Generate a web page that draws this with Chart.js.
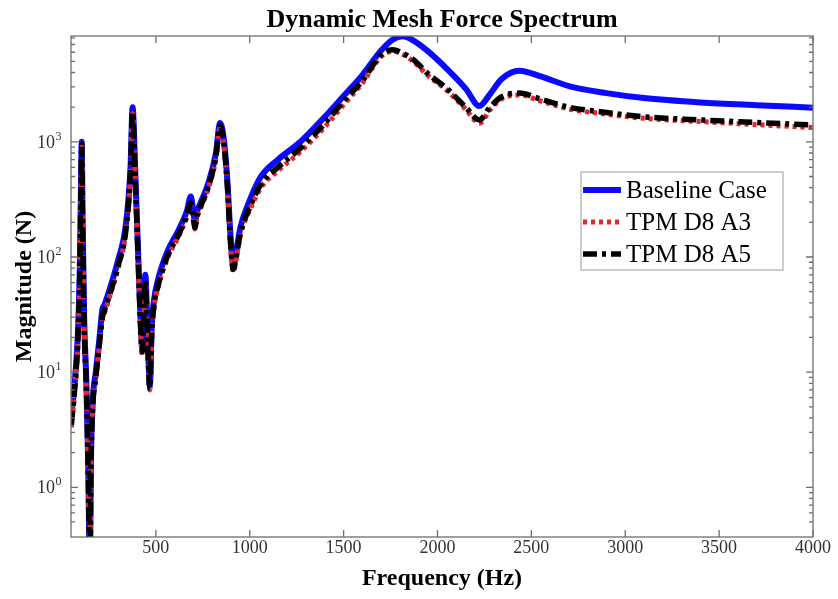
<!DOCTYPE html>
<html>
<head>
<meta charset="utf-8">
<script src="https://cdn.jsdelivr.net/npm/chart.js@4"></script>
<style>
  html, body { margin: 0; padding: 0; background: #fff; }
  #wrap { width: 838px; height: 599px; }
</style>
</head>
<body>
<div id="wrap"><canvas id="spectrum" width="838" height="599"></canvas></div>
<script>
const chartTitle = 'Dynamic Mesh Force Spectrum';
const seriesNames = ['Baseline Case', 'TPM D8 A3', 'TPM D8 A5'];

const freq = [50, 70, 85, 95, 100, 105, 110, 118, 130, 140, 148, 155, 165, 180, 200, 215, 225, 250, 300, 340,
  365, 376, 390, 405, 420, 428, 438, 444, 452, 460, 468, 478, 490, 510, 560, 620, 665, 686, 698, 708,
  720, 740, 780, 820, 842, 862, 880, 898, 912, 925, 950, 1000, 1060, 1150, 1270, 1400, 1500, 1600, 1700, 1760,
  1814, 1870, 1950, 2050, 2150, 2223, 2280, 2340, 2436, 2550, 2700, 2900, 3100, 3400, 3700, 4000];

const baseline = [4.2, 9, 22, 80, 300, 1000, 200, 30, 8, 1.5, 0.2, 2, 6, 10, 20, 35, 38, 50, 95, 190,
  600, 2000, 560, 115, 25, 16, 45, 70, 35, 14, 7.6, 25, 42, 62, 110, 170, 250, 335, 260, 205,
  250, 300, 440, 800, 1460, 1050, 480, 150, 88, 105, 180, 310, 500, 700, 1000, 1650, 2500, 3800, 6200, 7700,
  8250, 7600, 6100, 4300, 2900, 2050, 2600, 3500, 4150, 3700, 3050, 2650, 2400, 2200, 2080, 1980];

const tpmA3 = [3.3, 7.6, 19, 72, 270, 930, 170, 26, 6.6, 1.2, 0.2, 1.7, 5.2, 8.6, 17, 29, 32, 43, 82, 165,
  530, 1750, 480, 100, 21, 14, 38, 60, 29, 12, 7, 21, 36, 53, 96, 150, 222, 285, 222, 175,
  220, 270, 395, 720, 1330, 940, 420, 125, 74, 90, 155, 255, 400, 560, 820, 1350, 2100, 3250, 5500, 6100,
  5750, 5000, 3750, 2800, 1920, 1450, 1900, 2350, 2550, 2260, 1930, 1740, 1600, 1500, 1410, 1330];

const tpmA5 = [3.5, 8, 20, 75, 280, 950, 180, 27, 7, 1.3, 0.2, 1.8, 5.5, 9, 18, 30, 34, 45, 85, 170,
  550, 1800, 500, 105, 22, 15, 40, 62, 31, 12.5, 7.2, 22, 38, 55, 100, 155, 230, 295, 230, 180,
  230, 280, 410, 750, 1380, 980, 440, 130, 78, 94, 160, 270, 430, 600, 880, 1450, 2250, 3400, 5700, 6300,
  5900, 5200, 3900, 2900, 2000, 1550, 2000, 2450, 2650, 2350, 2000, 1800, 1650, 1550, 1470, 1400];

const xTicks = [500, 1000, 1500, 2000, 2500, 3000, 3500, 4000];
const yDecades = [1, 10, 100, 1000];

const serif = "'Liberation Serif', 'Times New Roman', serif";

const toPoints = ys => freq.map((f, i) => ({ x: f, y: ys[i] }));

const isDecade = v => {
  const e = Math.log10(v);
  return Math.abs(e - Math.round(e)) < 1e-9;
};

// title, box with inward ticks on all four sides, 10^n labels, legend in the plot
const decorations = {
  id: 'decorations',
  afterDatasetsDraw(chart) {
    const { ctx, chartArea: a, scales: { x, y } } = chart;
    ctx.save();
    ctx.strokeStyle = '#6e6e6e';
    ctx.lineWidth = 1.3;
    ctx.setLineDash([]);
    ctx.strokeRect(a.left, a.top, a.right - a.left, a.bottom - a.top);

    ctx.beginPath();
    xTicks.forEach(v => {
      const px = x.getPixelForValue(v);
      ctx.moveTo(px, a.bottom); ctx.lineTo(px, a.bottom - 7);
      ctx.moveTo(px, a.top); ctx.lineTo(px, a.top + 7);
    });
    y.ticks.forEach(t => {
      const v = t.value;
      const e = Math.floor(Math.log10(v) + 1e-9);
      const m = v / Math.pow(10, e);
      if (Math.abs(m - Math.round(m)) > 1e-6) return;
      const py = y.getPixelForValue(v);
      const len = isDecade(v) ? 7 : 4;
      ctx.moveTo(a.left, py); ctx.lineTo(a.left + len, py);
      ctx.moveTo(a.right, py); ctx.lineTo(a.right - len, py);
    });
    ctx.stroke();

    // y labels as 10 with a raised exponent
    ctx.fillStyle = '#333';
    ctx.textBaseline = 'alphabetic';
    yDecades.forEach(v => {
      const py = y.getPixelForValue(v);
      const exp = String(Math.round(Math.log10(v)));
      ctx.font = '18px ' + serif;
      ctx.textAlign = 'right';
      ctx.fillText('10', 55, py + 6);
      ctx.font = '12px ' + serif;
      ctx.textAlign = 'left';
      ctx.fillText(exp, 55.5, py - 2);
    });

    // title
    ctx.fillStyle = '#000';
    ctx.font = 'bold 26px ' + serif;
    ctx.textAlign = 'center';
    ctx.fillText(chartTitle, (a.left + a.right) / 2, 27);

    // legend
    const box = { left: 581, top: 172, right: 783, bottom: 270 };
    ctx.fillStyle = '#fff';
    ctx.fillRect(box.left, box.top, box.right - box.left, box.bottom - box.top);
    ctx.strokeStyle = '#9a9a9a';
    ctx.lineWidth = 1;
    ctx.strokeRect(box.left, box.top, box.right - box.left, box.bottom - box.top);
    ctx.font = '25px ' + serif;
    ctx.textAlign = 'left';
    ctx.textBaseline = 'middle';
    chart.data.datasets.forEach((ds, i) => {
      const ry = 190 + i * 32;
      ctx.strokeStyle = ds.borderColor;
      ctx.lineWidth = ds.borderWidth;
      ctx.setLineDash(ds.borderDash || []);
      ctx.beginPath();
      ctx.moveTo(583, ry);
      ctx.lineTo(621, ry);
      ctx.stroke();
      ctx.setLineDash([]);
      ctx.fillStyle = '#000';
      ctx.fillText(ds.label, 626, ry + 1);
    });
    ctx.restore();
  }
};

new Chart(document.getElementById('spectrum'), {
  type: 'line',
  data: {
    datasets: [
      {
        label: seriesNames[0],
        data: toPoints(baseline),
        borderColor: '#0a0aff',
        borderWidth: 6,
        order: 3
      },
      {
        label: seriesNames[1],
        data: toPoints(tpmA3),
        borderColor: '#e3262a',
        borderWidth: 5,
        borderDash: [4, 4],
        order: 2
      },
      {
        label: seriesNames[2],
        data: toPoints(tpmA5),
        borderColor: '#000',
        borderWidth: 5.5,
        borderDash: [14, 5, 4, 5],
        order: 1
      }
    ]
  },
  options: {
    responsive: false,
    animation: false,
    layout: { padding: { top: 36, right: 25, left: 0, bottom: 0 } },
    elements: {
      point: { radius: 0 },
      line: { cubicInterpolationMode: 'monotone', fill: false }
    },
    plugins: {
      legend: { display: false },
      title: { display: false },
      tooltip: { enabled: false }
    },
    scales: {
      x: {
        type: 'linear',
        min: 48,
        max: 4000,
        grid: { display: false },
        border: { display: false },
        afterFit: s => { s.height = 62; },
        afterBuildTicks: s => { s.ticks = xTicks.map(v => ({ value: v })); },
        ticks: {
          autoSkip: false,
          maxRotation: 0,
          padding: -8,
          color: '#333',
          font: { family: serif, size: 18 },
          callback: v => String(v)
        },
        title: {
          display: true,
          text: 'Frequency (Hz)',
          color: '#000',
          font: { family: serif, size: 24, weight: 'bold' },
          padding: { top: 0, bottom: 6 }
        }
      },
      y: {
        type: 'logarithmic',
        min: 0.37,
        max: 8300,
        grid: { display: false },
        border: { display: false },
        afterFit: s => { s.width = 71; },
        ticks: { display: false },
        title: {
          display: true,
          text: 'Magnitude (N)',
          color: '#000',
          font: { family: serif, size: 24, weight: 'bold' },
          padding: { top: 10, bottom: 0 }
        }
      }
    }
  },
  plugins: [decorations]
});
</script>
</body>
</html>
